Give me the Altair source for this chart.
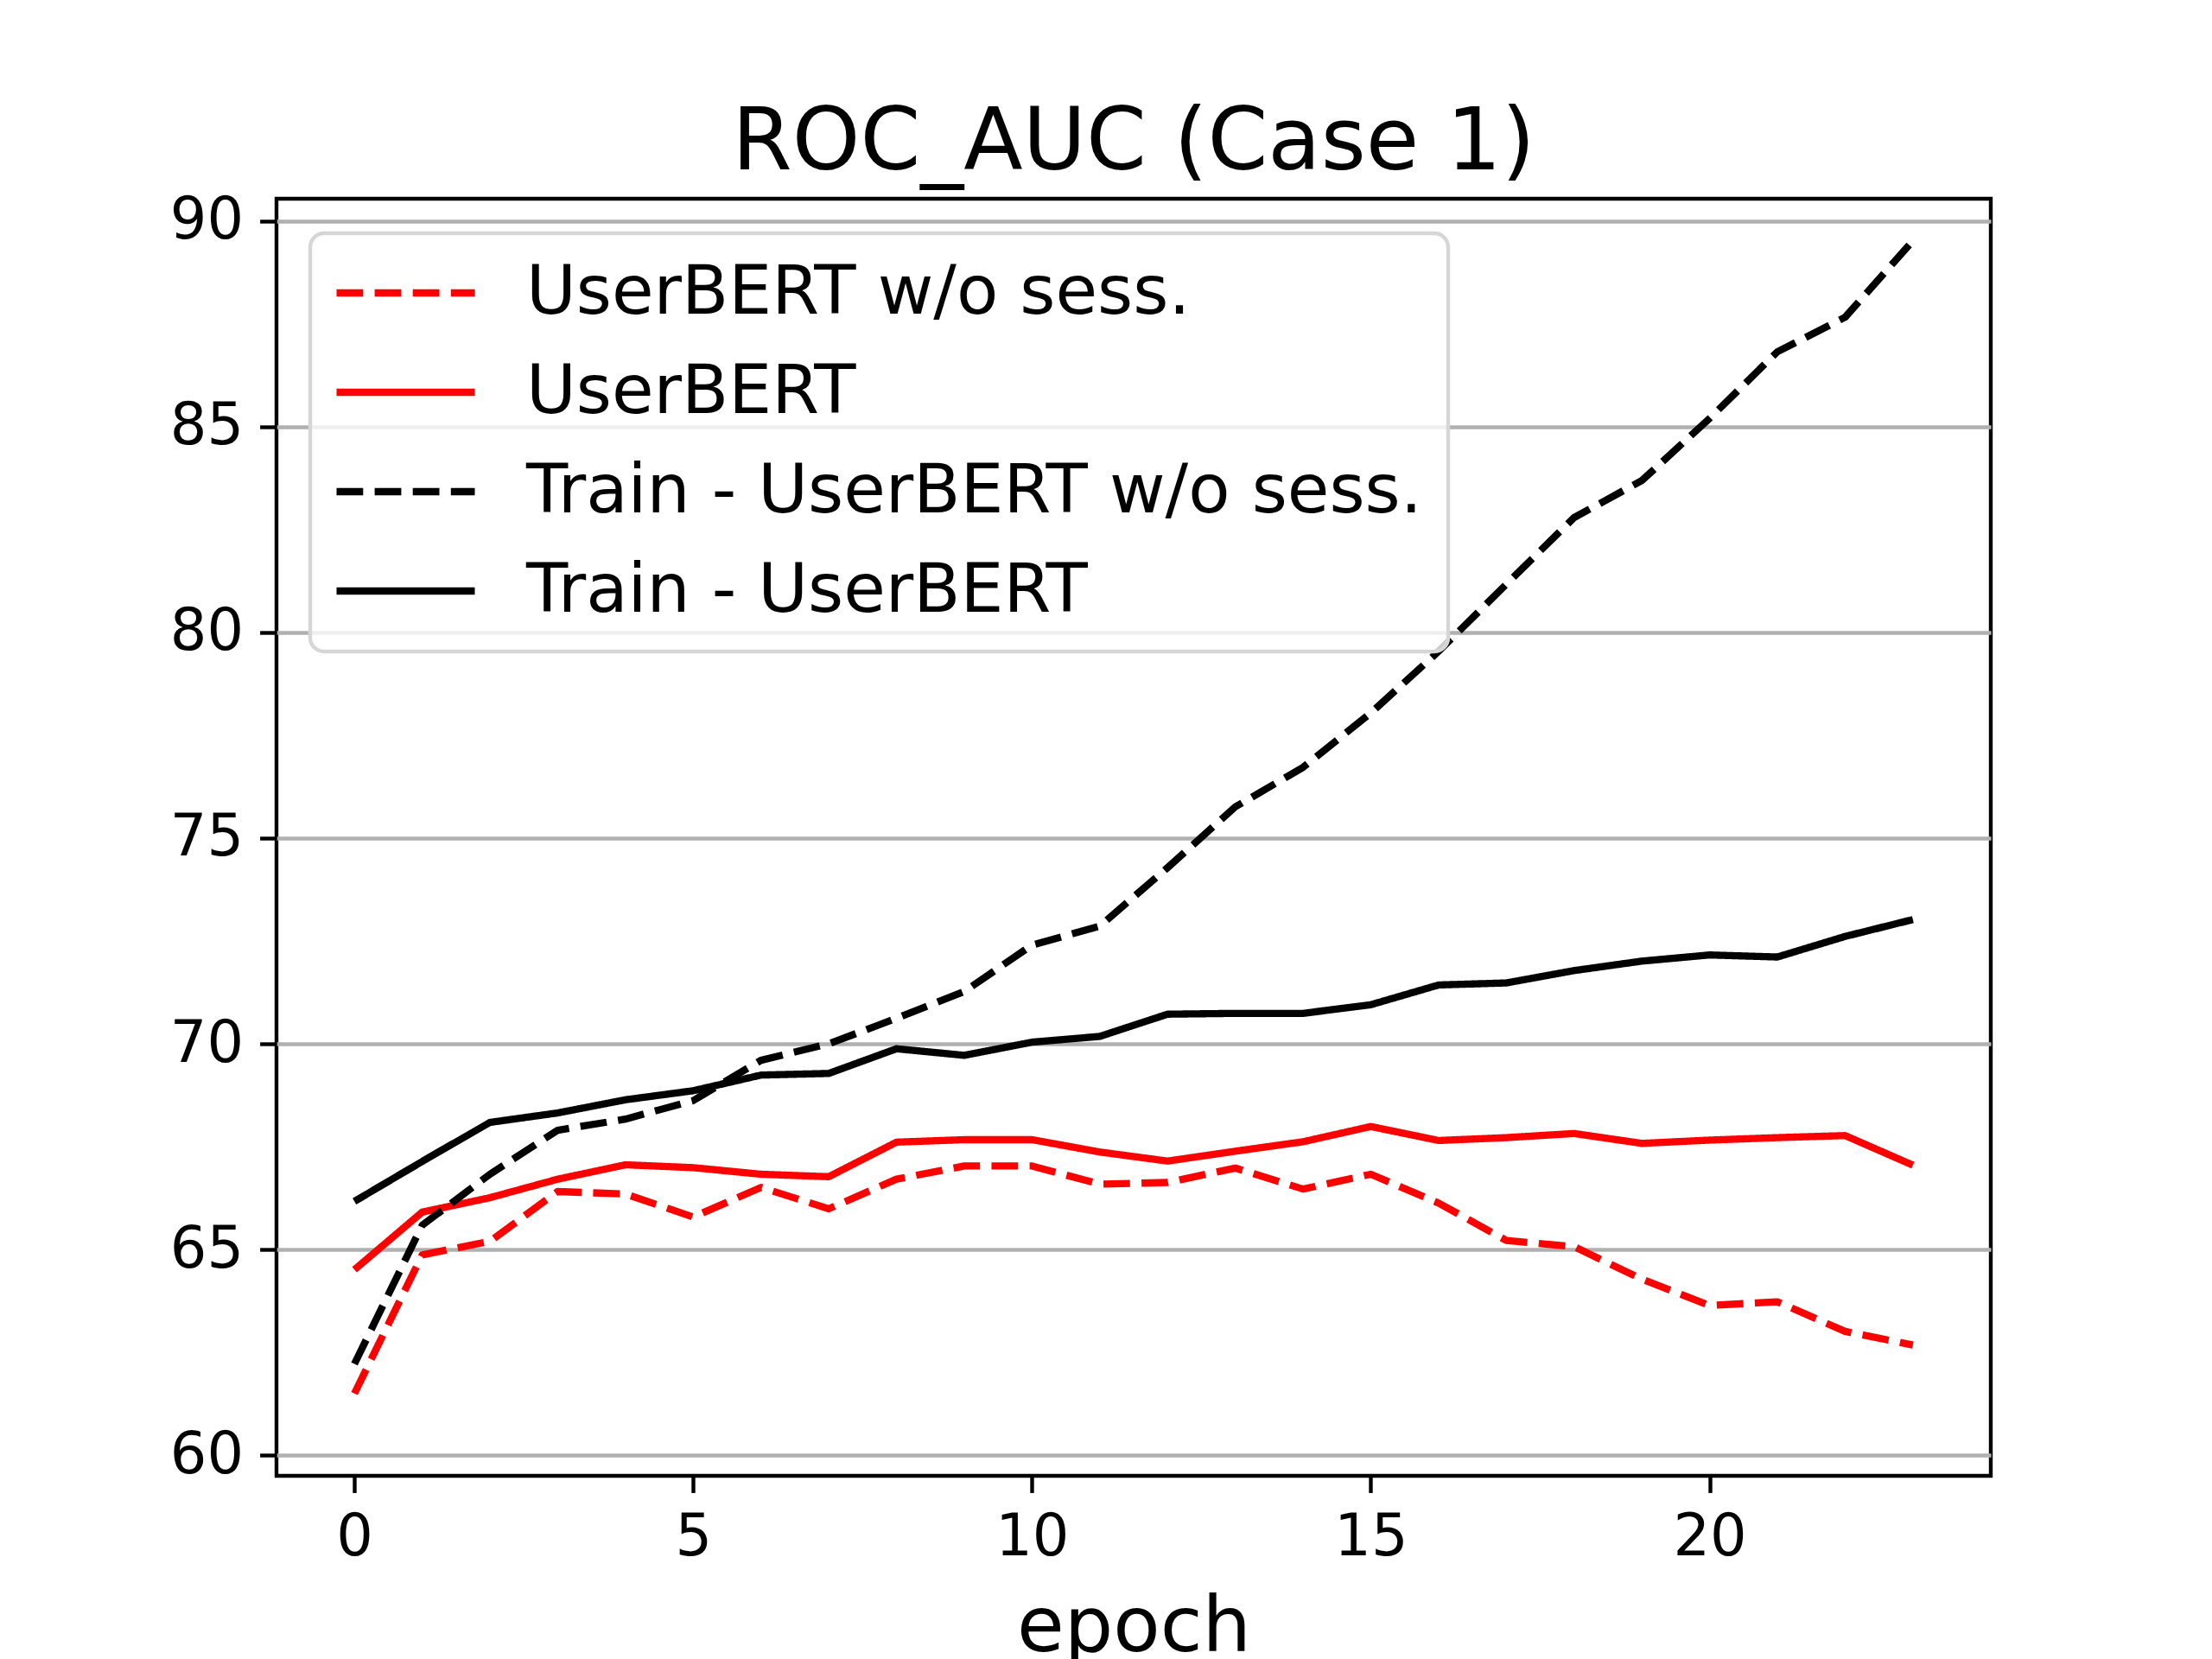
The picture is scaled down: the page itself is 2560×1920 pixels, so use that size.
import altair as alt
import pandas as pd

epochs = list(range(24))
userbert_wo_sess = [61.5, 64.87, 65.2, 66.41, 66.35, 65.79, 66.51, 65.99, 66.71, 67.03, 67.03, 66.59,
                    66.63, 66.98, 66.47, 66.83, 66.13, 65.22, 65.07, 64.28, 63.64, 63.73, 63.01, 62.68]
userbert = [64.51, 65.91, 66.26, 66.71, 67.06, 66.99, 66.83, 66.77, 67.61, 67.67, 67.67, 67.37,
            67.15, 67.39, 67.62, 67.99, 67.65, 67.72, 67.82, 67.58, 67.66, 67.72, 67.77, 67.05]
train_wo_sess = [62.22, 65.59, 66.83, 67.9, 68.17, 68.62, 69.6, 70.0, 70.62, 71.27, 72.4, 72.86,
                 74.28, 75.76, 76.72, 78.04, 79.54, 81.17, 82.79, 83.69, 85.2, 86.82, 87.66, 89.52]
train_userbert = [66.17, 67.14, 68.09, 68.32, 68.64, 68.86, 69.24, 69.28, 69.88, 69.72, 70.04, 70.18,
                  70.72, 70.74, 70.74, 70.95, 71.43, 71.48, 71.78, 72.01, 72.16, 72.11, 72.61, 73.02]

series_names = ["UserBERT w/o sess.", "UserBERT", "Train - UserBERT w/o sess.", "Train - UserBERT"]
series_values = [userbert_wo_sess, userbert, train_wo_sess, train_userbert]
series_colors = ["#ff0000", "#ff0000", "#000000", "#000000"]
series_dashes = [[30.8, 13.3], [1, 0], [30.8, 13.3], [1, 0]]
x_ticks = [0, 5, 10, 15, 20]
y_ticks = [60, 65, 70, 75, 80, 85, 90]

rows = []
for name, vals in zip(series_names, series_values):
    for e, v in zip(epochs, vals):
        rows.append({"epoch": e, "auc": v, "series": name})
df = pd.DataFrame(rows)

FONT = "DejaVu Sans"

def make_legend():
    return alt.Legend(
        title=None,
        orient="none",
        legendX=39,
        legendY=40,
        fillColor="rgba(255,255,255,0.8)",
        strokeColor="#d6d6d6",
        cornerRadius=16,
        padding=30,
        rowPadding=36,
        clipHeight=78,
        symbolType="stroke",
        symbolSize=25600,
        symbolStrokeWidth=8.33,
        symbolOffset=-4,
        labelOffset=55,
        labelFont=FONT,
        labelFontSize=79,
        labelColor="black",
        labelLimit=3000,
    )

chart = alt.Chart(df).mark_line(strokeWidth=8.33, strokeJoin="round").encode(
    x=alt.X(
        "epoch:Q",
        scale=alt.Scale(domain=[-1.15, 24.15], nice=False, zero=False),
        axis=alt.Axis(values=x_ticks, format="d", title="epoch", grid=False,
                      titlePadding=28, titleFontSize=89),
    ),
    y=alt.Y(
        "auc:Q",
        scale=alt.Scale(domain=[59.5, 90.54], nice=False, zero=False),
        axis=alt.Axis(values=y_ticks, format="d", title=None, grid=True,
                      gridColor="#b0b0b0", gridWidth=4.4),
    ),
    color=alt.Color("series:N", scale=alt.Scale(domain=series_names, range=series_colors),
                    legend=make_legend()),
    strokeDash=alt.StrokeDash("series:N", scale=alt.Scale(domain=series_names, range=series_dashes),
                              legend=make_legend()),
).properties(
    width=1984,
    height=1478,
    autosize=alt.AutoSizeParams(type="none"),
    padding={"left": 312, "top": 222, "right": 248, "bottom": 212},
    title=alt.Title("ROC_AUC (Case 1)", font=FONT, fontSize=100, fontWeight="normal",
                    color="black", anchor="middle", offset=5),
).configure_view(
    stroke="black", strokeWidth=4.4
).configure_axis(
    domain=False,
    ticks=True,
    tickColor="black",
    tickWidth=4.4,
    tickSize=19.4,
    labelFont=FONT,
    labelFontSize=67,
    labelColor="black",
    labelPadding=19,
    labelOverlap=False,
    labelFlush=False,
    titleFont=FONT,
    titleFontWeight="normal",
    titleColor="black",
).configure_legend(
    strokeWidth=4.4
)

chart.save("out.html", embed_options={"renderer": "svg", "actions": False})
